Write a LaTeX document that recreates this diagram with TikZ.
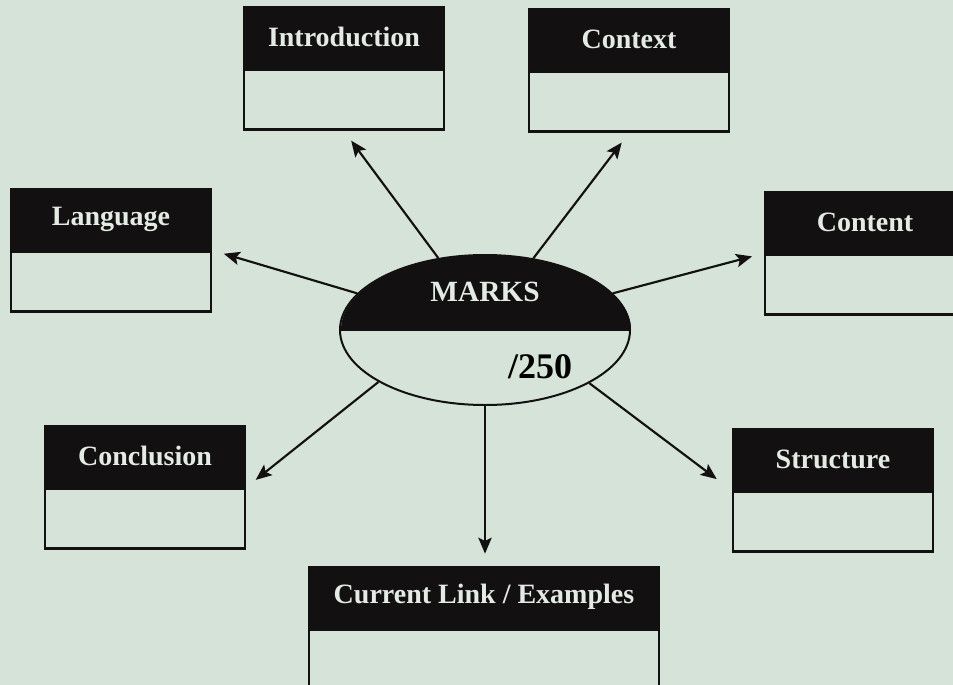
\documentclass[tikz,border=0pt]{standalone}
\usepackage{fontspec}
\setmainfont{Liberation Serif}
\usetikzlibrary{positioning,arrows.meta,shapes.geometric}
\definecolor{paper}{RGB}{214,227,216}
\definecolor{ink}{RGB}{18,16,16}
\definecolor{headtext}{RGB}{228,234,228}
\tikzset{
  head/.style={fill=ink, draw=ink, line width=2pt, minimum width=150pt, minimum height=45pt,
    inner sep=0pt, text=headtext, font=\bfseries\fontsize{21}{24}\selectfont},
  body/.style={fill=paper, draw=ink, line width=2pt, minimum width=150pt, minimum height=45pt, inner sep=0pt},
  link/.style={line width=1.6pt, draw=ink, -{Stealth[length=12pt,width=10pt,inset=2.5pt]}, shorten >=9pt}
}
\begin{document}
\begin{tikzpicture}[x=0.75pt,y=-0.75pt]
\useasboundingbox (0,0) rectangle (953,685);
\clip (0,0) rectangle (953,685);
\fill[paper] (0,0) rectangle (953,685);
% Centre: marks
\node[draw=ink, line width=1.5pt, ellipse, fill=paper, minimum width=217.5pt, minimum height=112.5pt, inner sep=0pt] (marks) at (485,330) {};
\fill[ink] (marks.east) arc[start angle=0, end angle=180, x radius=108.75pt, y radius=56.25pt] -- cycle;
\draw[ink, line width=1.5pt] (marks.west) -- (marks.east);
\node[text=headtext, font=\bfseries\fontsize{22}{26}\selectfont] (marks-t) at (485,292) {MARKS};
\node[font=\bfseries\fontsize{27}{30}\selectfont] (marks-v) at (540,367) {/250};
% Boxes along the top
\node[head] (intro) at (344,37) {Introduction};
\node[body, below=0pt of intro] (intro-b) {};
\node[head] (ctx) at (629,39) {Context};
\node[body, below=0pt of ctx] (ctx-b) {};
% Boxes at the sides
\node[head] (lang) at (111,219) {Language};
\node[body, below=0pt of lang] (lang-b) {};
\node[head] (cont) at (865,222) {Content};
\node[body, below=0pt of cont] (cont-b) {};
\node[head] (concl) at (145,456) {Conclusion};
\node[body, below=0pt of concl] (concl-b) {};
\node[head] (struct) at (833,459) {Structure};
\node[body, below=0pt of struct] (struct-b) {};
% Box at the bottom
\node[head, minimum width=262.5pt] (cur) at (484,597) {Current Link / Examples};
\node[body, minimum width=262.5pt, below=0pt of cur] (cur-b) {};
% Arrows out of the ellipse
\draw[link] (marks.123) -- (intro-b.south);
\draw[link] (marks.56) -- (ctx-b.south);
\draw[link] (marks.164) -- (lang.south east);
\draw[link] (marks.16) -- (cont.south west);
\draw[link] (marks.206) -- (concl.south east);
\draw[link, shorten >=14pt] (marks.333) -- (struct.south west);
\draw[link] (marks.south) -- (marks.south |- cur.north);
\end{tikzpicture}
\end{document}
